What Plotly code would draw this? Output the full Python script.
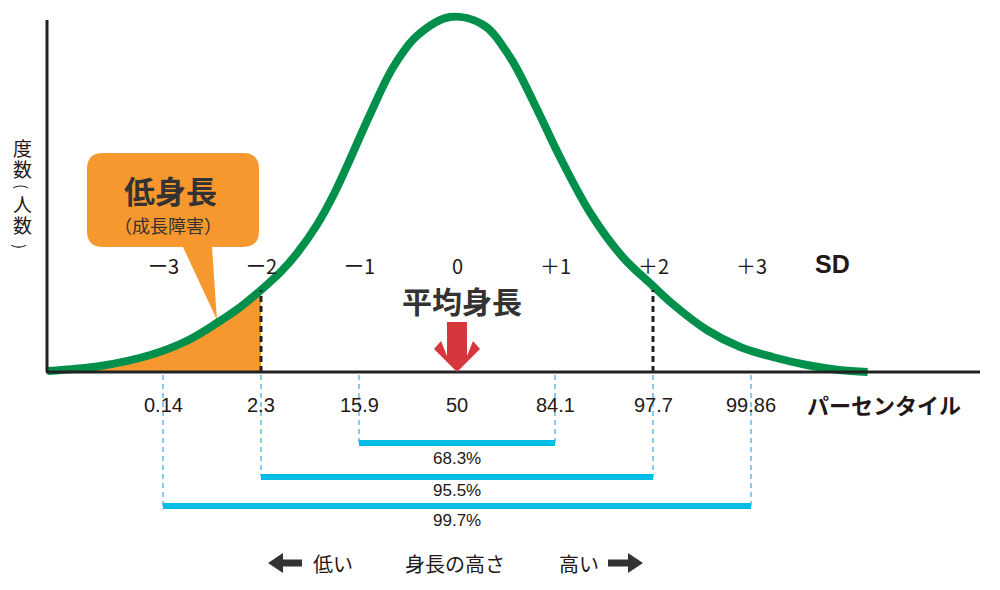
import plotly.graph_objects as go

# ---------------- data ----------------
# normal-distribution-like curve, x in SD units, y = frequency (relative units)
sd_x = [-4.18, -3.64, -3.13, -2.76, -2.45, -2.21, -2.00, -1.80, -1.63, -1.43, -1.25, -1.09,
        -0.89, -0.65, -0.41, -0.07, 0.27, 0.54, 0.82, 1.05, 1.36, 1.69, 2.00, 2.20, 2.55,
        2.89, 3.22, 3.57, 3.90, 4.19]
freq_y = [1, 6, 17, 31, 49, 65, 82, 100, 119, 147, 179, 213,
          257, 305, 336, 355, 347, 315, 262, 215, 159, 115, 86, 68, 42,
          25, 15, 7, 2, 0]

sd_ticks = [-3, -2, -1, 0, 1, 2, 3]
sd_labels = ["ー3", "ー2", "ー1", "0", "＋1", "＋2", "＋3"]
percentile_labels = ["0.14", "2.3", "15.9", "50", "84.1", "97.7", "99.86"]
range_sd = [1, 2, 3]
range_labels = ["68.3%", "95.5%", "99.7%"]
cut_sd = 2
cut_height = 82

# ---------------- layout helpers (pixel -> data) ----------------
X0, XS = 457.0, 98.0
Y0 = 372.0
W, H = 1000, 590


def px(xp):
    return (xp - X0) / XS


def py(yp):
    return Y0 - yp


JP = "Noto Sans CJK JP"
LAT = "Liberation Sans"
TXT = "#231815"
ORANGE = "#F7982F"
GREEN = "#00904C"
RED = "#D6373C"
CYAN = "#00BDE6"
LBLUE = "#38A9E1"

fig = go.Figure()

# orange tail (below -2SD)
tail_x = [x for x in sd_x if x <= -cut_sd]
tail_y = [y for x, y in zip(sd_x, freq_y) if x <= -cut_sd]
fig.add_trace(go.Scatter(x=tail_x, y=tail_y, mode="lines", line=dict(width=0, color=ORANGE, shape="spline"),
                         fill="tozeroy", fillcolor=ORANGE, hoverinfo="skip", showlegend=False))
# curve
fig.add_trace(go.Scatter(x=sd_x, y=freq_y, mode="lines",
                         line=dict(color=GREEN, width=8, shape="spline", smoothing=1.0),
                         hoverinfo="skip", showlegend=False))

shapes = []
# speech bubble
bx0, bx1, by0, by1, r = 87, 259, 153, 247, 16
pts = [
    ("M", [(bx0 + r, by0)]), ("L", [(bx1 - r, by0)]), ("Q", [(bx1, by0), (bx1, by0 + r)]),
    ("L", [(bx1, by1 - r)]), ("Q", [(bx1, by1), (bx1 - r, by1)]),
    ("L", [(212, by1)]), ("L", [(217, 320)]), ("L", [(183, by1)]),
    ("L", [(bx0 + r, by1)]), ("Q", [(bx0, by1), (bx0, by1 - r)]),
    ("L", [(bx0, by0 + r)]), ("Q", [(bx0, by0), (bx0 + r, by0)]),
]
path = ""
for cmd, ps in pts:
    path += cmd + " ".join(f"{px(a):.4f},{py(b):.4f}" for a, b in ps) + " "
path += "Z"
shapes.append(dict(type="path", path=path, fillcolor=ORANGE, line=dict(width=0), layer="below"))

# axes
shapes.append(dict(type="line", x0=px(47), x1=px(47), y0=py(372), y1=py(20), line=dict(color="#222", width=3)))
shapes.append(dict(type="line", x0=px(46), x1=px(980), y0=0, y1=0, line=dict(color="#222", width=3)))

# dashed cut lines at +-2SD
for s in (-cut_sd, cut_sd):
    shapes.append(dict(type="line", x0=s, x1=s, y0=0, y1=cut_height,
                       line=dict(color="#222", width=3, dash="6px,4px")))

# range brackets
bar_y = {1: 443, 2: 477, 3: 506}
for k in range_sd:
    for s in (-k, k):
        shapes.append(dict(type="line", x0=s, x1=s, y0=py(375), y1=py(bar_y[k]),
                           line=dict(color=LBLUE, width=1.2, dash="5px,4px")))
    shapes.append(dict(type="line", x0=-k, x1=k, y0=py(bar_y[k]), y1=py(bar_y[k]),
                       line=dict(color=CYAN, width=6)))

# red arrow (mean)
arrow = [(447, 322), (467, 322), (467, 356), (473, 341), (480, 349), (457, 372),
         (434, 349), (441, 341), (447, 356)]
path = "M" + " L".join(f"{px(a):.4f},{py(b):.4f}" for a, b in arrow) + " Z"
shapes.append(dict(type="path", path=path, fillcolor=RED, line=dict(width=0)))

# bottom arrows
la = [(268, 563), (283, 553), (283, 559.5), (302, 559.5), (302, 566.5), (283, 566.5), (283, 573)]
ra = [(643, 563), (628, 553), (628, 559.5), (608, 559.5), (608, 566.5), (628, 566.5), (628, 573)]
for ar in (la, ra):
    path = "M" + " L".join(f"{px(a):.4f},{py(b):.4f}" for a, b in ar) + " Z"
    shapes.append(dict(type="path", path=path, fillcolor="#333", line=dict(width=0)))

ann = []


def text(xp, yp, s, size, family=JP, bold=False, color=TXT, xanchor="center", angle=0):
    if bold:
        s = f"<b>{s}</b>"
    ann.append(dict(x=px(xp), y=py(yp), text=s, showarrow=False, xanchor=xanchor, yanchor="middle",
                    textangle=angle, font=dict(family=family, size=size, color=color)))


# SD labels
for s, lab in zip(sd_ticks, sd_labels):
    ann.append(dict(x=s, y=py(265), text=lab, showarrow=False, xanchor="center", yanchor="middle",
                    font=dict(family=JP, size=20, color=TXT)))
text(832, 264, "SD", 25, family=LAT, bold=True)

# percentile labels
for s, lab in zip(sd_ticks, percentile_labels):
    ann.append(dict(x=s, y=py(405), text=lab, showarrow=False, xanchor="center", yanchor="middle",
                    font=dict(family=LAT, size=20, color=TXT)))
text(884, 404, "パーセンタイル", 22, bold=True)

# range labels
lab_y = {1: 458, 2: 490, 3: 520}
for k, lab in zip(range_sd, range_labels):
    ann.append(dict(x=0, y=py(lab_y[k]), text=lab, showarrow=False, xanchor="center", yanchor="middle",
                    font=dict(family=LAT, size=17, color=TXT)))

text(462, 300, "平均身長", 30, bold=True, color="#333")
text(170, 189, "低身長", 31, bold=True, color="#333")
text(168, 225, "（成長障害）", 18, color="#333")

# vertical y label: 度数（人数）, stacked, parentheses rotated
text(22, 147, "度", 19)
text(22, 168, "数", 19)
text(23, 186, "(", 15, angle=90)
text(22, 203, "人", 19)
text(22, 224, "数", 19)
text(21, 246, ")", 15, angle=90)

# bottom
text(333, 563, "低い", 20)
text(455, 563, "身長の高さ", 20)
text(579, 563, "高い", 20)

fig.update_layout(
    width=W, height=H, margin=dict(l=0, r=0, t=0, b=0),
    paper_bgcolor="white", plot_bgcolor="white",
    xaxis=dict(range=[px(0), px(W)], visible=False, fixedrange=True),
    yaxis=dict(range=[py(H), py(0)], visible=False, fixedrange=True),
    shapes=shapes, annotations=ann, showlegend=False,
)
fig.write_html("out.html")
